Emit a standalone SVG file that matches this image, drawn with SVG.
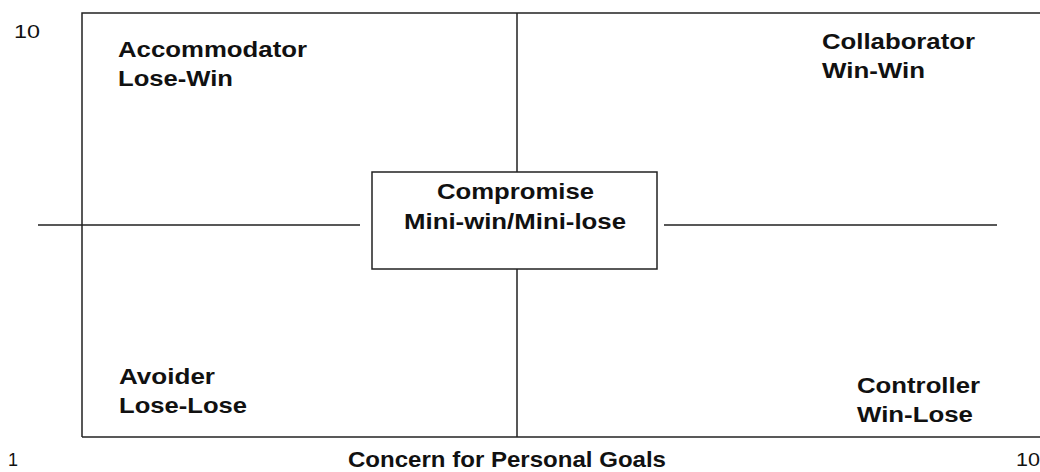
<svg xmlns="http://www.w3.org/2000/svg" width="1040" height="472" viewBox="0 0 1040 472">
<style>
.ln{stroke:#222;stroke-width:1.5;fill:none}
.b{font-family:"Liberation Sans",Arial,sans-serif;font-weight:bold;font-size:21.5px;fill:#111}
.r{font-family:"Liberation Sans",Arial,sans-serif;font-size:18px;fill:#111}
</style>
<rect width="1040" height="472" fill="#fff"/>
<g id="connectors">
<path class="ln" d="M82,437 L82,13 L1040,13"/>
<path class="ln" d="M82,437 L1040,437"/>
<path class="ln" d="M517,13 V172 M517,269 V437"/>
<path class="ln" d="M38,225 H360 M664,225 H997"/>
</g>
<g id="axis">
<text class="r" x="14" y="38" textLength="26" lengthAdjust="spacingAndGlyphs">10</text>
<text class="r" x="8" y="466">1</text>
<text class="r" x="1016" y="466" textLength="24" lengthAdjust="spacingAndGlyphs">10</text>
<text class="b" x="348" y="467" textLength="318" lengthAdjust="spacingAndGlyphs">Concern for Personal Goals</text>
</g>
<g id="accommodator">
<text class="b" x="118" y="57" textLength="189" lengthAdjust="spacingAndGlyphs">Accommodator</text>
<text class="b" x="118" y="86" textLength="115" lengthAdjust="spacingAndGlyphs">Lose-Win</text>
</g>
<g id="collaborator">
<text class="b" x="822" y="49" textLength="153" lengthAdjust="spacingAndGlyphs">Collaborator</text>
<text class="b" x="822" y="78" textLength="103" lengthAdjust="spacingAndGlyphs">Win-Win</text>
</g>
<g id="compromise">
<rect class="ln" x="372" y="172" width="285" height="97" fill="#fff"/>
<text class="b" x="437" y="199" textLength="157" lengthAdjust="spacingAndGlyphs">Compromise</text>
<text class="b" x="404" y="229" textLength="222" lengthAdjust="spacingAndGlyphs">Mini-win/Mini-lose</text>
</g>
<g id="avoider">
<text class="b" x="119" y="384" textLength="96" lengthAdjust="spacingAndGlyphs">Avoider</text>
<text class="b" x="119" y="413" textLength="128" lengthAdjust="spacingAndGlyphs">Lose-Lose</text>
</g>
<g id="controller">
<text class="b" x="857" y="393" textLength="123" lengthAdjust="spacingAndGlyphs">Controller</text>
<text class="b" x="857" y="422" textLength="116" lengthAdjust="spacingAndGlyphs">Win-Lose</text>
</g>
</svg>
